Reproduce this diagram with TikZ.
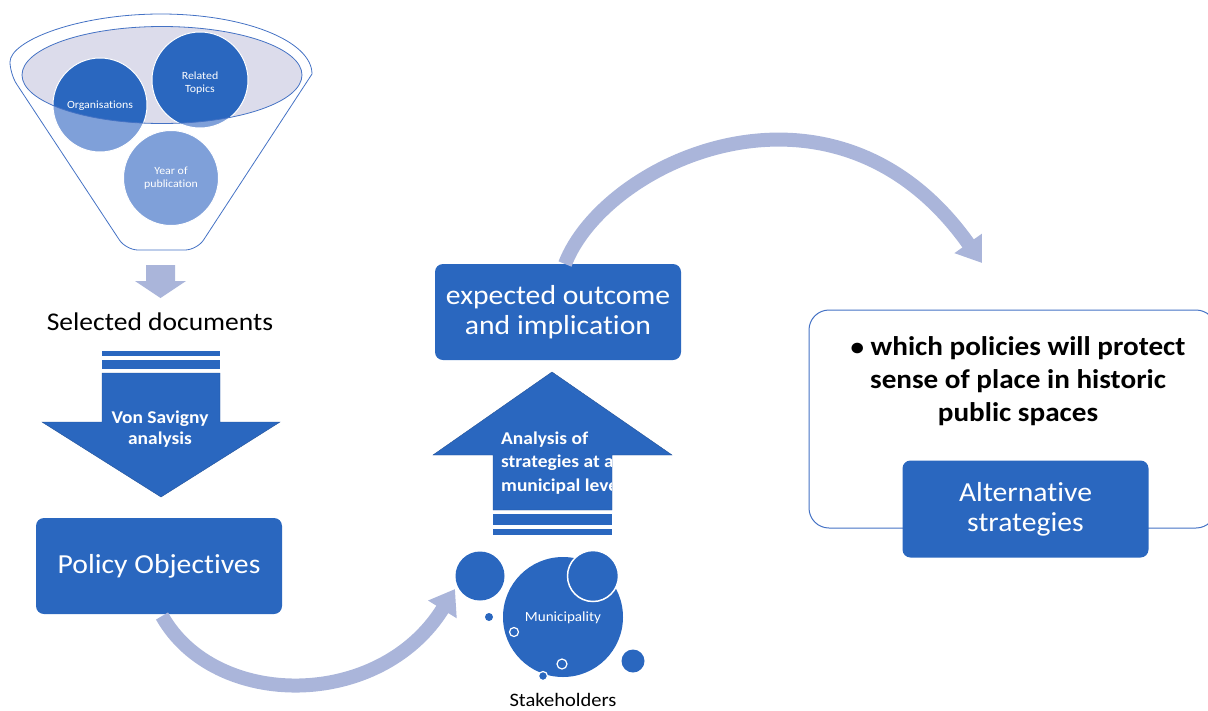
\documentclass[tikz,border=0pt]{standalone}
\usepackage{fontspec}
\setmainfont{Carlito}[FakeStretch=1.08, Ligatures=NoCommon]
\usetikzlibrary{arrows.meta}
\definecolor{mblue}{HTML}{2A67BF}
\definecolor{lav}{HTML}{AAB5DA}
\definecolor{lightc}{HTML}{7FA0D9}
\definecolor{funfill}{HTML}{DCDCEB}
\definecolor{funline}{HTML}{4472C4}
\tikzset{
  bluebox/.style={fill=mblue, rounded corners=8pt, text=white, minimum width=246pt, minimum height=96pt, align=center, inner sep=0pt, font=\fontsize{27.5}{30}\selectfont},
  blockarrow/.style={fill=mblue, draw=mblue!80!black, line width=0.4pt},
  curvearrow/.style={draw=lav, line width=14pt, -{Triangle[width=32pt,length=24pt]}},
  circtext/.style={text=white, align=center, font=\fontsize{11}{12.5}\selectfont},
  bubble/.style={fill=mblue},
  hollow/.style={fill=mblue, draw=white, line width=1.2pt},
}
\begin{document}
\begin{tikzpicture}[x=1pt,y=-1pt]
\useasboundingbox (0,0) rectangle (1208,710);

% ---------- funnel ----------
\draw[funline, line width=0.8pt] (10,74) arc[start angle=180, end angle=360, x radius=151, y radius=60]
  [rounded corners=12pt] -- (197,250) -- (126,250) -- cycle;
\fill[funfill] (162,75) ellipse[x radius=140, y radius=48.5];
\fill[lightc] (100,105) circle[radius=47];
\fill[lightc] (200,80) circle[radius=48];
\fill[lightc] (171,178) circle[radius=47.5];
\begin{scope}
  \clip (162,75) ellipse[x radius=140, y radius=48.5];
  \fill[mblue] (100,105) circle[radius=47];
  \fill[mblue] (200,80) circle[radius=48];
\end{scope}
\draw[white, line width=1pt] (100,105) circle[radius=47];
\draw[white, line width=1pt] (200,80) circle[radius=48];
\draw[white, line width=1pt] (171,178) circle[radius=47.5];
\draw[funline, line width=0.8pt] (162,75) ellipse[x radius=140, y radius=48.5];
\node[circtext] (org) at (100,106) {Organisations};
\node[circtext] (rel) at (200,83) {Related\\Topics};
\node[circtext] (year) at (171,178) {Year of\\publication};

% ---------- small down arrow ----------
\fill[lav] (146,265) -- (175,265) -- (175,281) -- (186,281) -- (160.5,298) -- (135,281) -- (146,281) -- cycle;
\node[font=\fontsize{25.5}{30}\selectfont] (sel) at (160,322) {Selected documents};

% ---------- Von Savigny arrow ----------
\fill[mblue] (102,351) rectangle (220,356);
\fill[mblue] (102,359.5) rectangle (220,369);
\path[blockarrow] (102,373) -- (220,373) -- (220,422) -- (280,422) -- (161,497) -- (42,422) -- (102,422) -- cycle;
\node[text=white, align=center, font=\bfseries\fontsize{18}{21}\selectfont] (vs) at (160,429) {Von Savigny\\analysis};

% ---------- boxes ----------
\node[bluebox] (policy) at (159,566) {Policy Objectives};
\node[bluebox] (outcome) at (558,312) {expected outcome\\and implication};

% ---------- up arrow ----------
\fill[mblue] (493,514) rectangle (612,525);
\fill[mblue] (493,529) rectangle (612,535);
\path[blockarrow] (493,510) -- (493,455) -- (433,455) -- (552,372) -- (672,455) -- (612,455) -- (612,510) -- cycle;
\begin{scope}
  \clip (430,360) rectangle (611,520);
  \node[anchor=west, text=white, align=left, inner sep=0pt, font=\bfseries\fontsize{18}{23.5}\selectfont] (ana) at (501,463) {Analysis of\\strategies at a\\municipal level};
\end{scope}

% ---------- stakeholders ----------
\fill[bubble] (563,617) circle[radius=60];
\draw[hollow, line width=1.5pt] (593,576) circle[radius=25.5];
\fill[bubble] (480,576) circle[radius=24.5];
\fill[bubble] (489,617) circle[radius=4];
\fill[bubble] (633,661) circle[radius=11.5];
\draw[hollow] (514,632) circle[radius=4.5];
\draw[hollow] (562,664) circle[radius=5];
\draw[hollow] (543,676) circle[radius=4.5];
\node[text=white, font=\fontsize{14}{16}\selectfont] (muni) at (563,618) {Municipality};
\node[font=\fontsize{19}{24}\selectfont] (stake) at (563,700) {Stakeholders};

% ---------- right panel ----------
\draw[funline, line width=1pt, rounded corners=20pt] (809,310) rectangle (1216,528);
\node[align=center, font=\bfseries\fontsize{27}{33}\selectfont] (which) at (1018,381) {{\fontsize{25}{25}\selectfont\textbullet}\ which policies will protect\\sense of place in historic\\public spaces};
\node[bluebox, minimum height=97pt] (alt) at (1025.5,509) {Alternative\\strategies};

% ---------- curved arrows ----------
\coordinate (a1s) at (162,616);
\coordinate (a1e) at (455,589);
\draw[curvearrow] (a1s) .. controls (215,710) and (380,710) .. (a1e);
\coordinate (a2s) at (565,264);
\coordinate (a2e) at (982,263);
\draw[curvearrow] (a2s) .. controls (605,160) and (835,55) .. (a2e);
\end{tikzpicture}
\end{document}
